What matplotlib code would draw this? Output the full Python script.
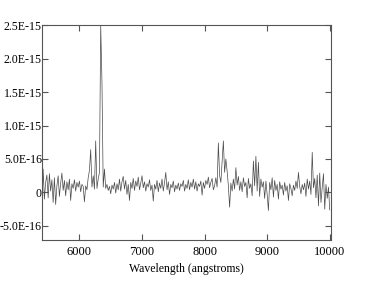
import numpy as np
import matplotlib.pyplot as plt
from matplotlib.ticker import FixedLocator, FixedFormatter

# spectrum sampled every 20 A, flux in units of 1e-16
wave_start, wave_step = 5400, 20
flux_e16 = [
    -3.2, 3.5, -1.0, 1.5, 2.6, -0.8, 2.8, 0.2, 1.9, -1.5,
    2.2, -1.8, 1.0, 2.5, -0.6, 1.4, 2.9, 0.3, 1.8, -0.5,
    1.6, 0.4, 2.0, -1.2, 1.3, 0.6, 1.9, 0.2, 1.5, 0.8,
    1.7, 0.1, 1.2, 0.9, -1.4, 1.0, 0.4, 2.2, 3.3, 6.4,
    0.8, 2.5, 0.5, 7.7, 0.6, 2.0, 3.0, 25.0, 16.5, 0.8,
    3.5, 0.6, 1.2, 0.3, 0.9, -0.2, 1.1, 0.5, 1.5, -0.1,
    1.3, 0.4, 2.0, 0.2, 1.6, 2.4, 0.5, 1.8, -0.3, 1.2,
    -1.2, 1.5, 0.6, 2.1, 0.3, 1.7, 0.9, 2.3, 0.4, 1.4,
    2.5, 0.7, 1.6, 0.2, 1.3, 0.8, 1.9, 0.3, 1.1, -1.3,
    1.2, 0.5, 1.8, 0.1, 1.4, 0.6, 2.0, 0.2, 1.5, 3.0,
    0.4, 1.6, -0.3, 1.2, 0.7, 1.7, 0.1, 1.1, 0.5, 1.4,
    0.3, 1.3, 0.9, 1.8, 0.2, 1.2, 0.6, 1.9, 0.4, 1.5,
    0.8, 2.0, 0.5, 1.6, 0.2, 1.3, 0.9, 1.7, -0.4, 1.5,
    0.6, 1.8, 1.2, 2.3, 0.7, 1.5, 2.1, 0.4, 1.0, 2.2,
    0.8, 7.4, 2.5, 1.5, 4.5, 7.7, 3.0, 5.0, 3.2, 1.0,
    -2.2, 1.4, 0.2, 2.0, 0.5, 3.7, 1.1, 2.4, 0.3, 1.6,
    0.1, 2.2, 0.9, 1.5, -0.8, 2.1, 0.6, 1.3, -0.5, 4.7,
    1.0, 5.4, 0.2, 4.5, -0.6, 2.0, 0.8, 1.6, -0.9, 1.7,
    -0.3, -2.7, 1.5, 0.4, 2.2, -0.7, 1.8, 0.3, 1.2, -1.0,
    1.6, 0.5, 1.1, -0.4, 1.5, 0.2, 1.0, -1.2, 1.3, 0.6,
    -0.5, 1.1, 0.3, 1.7, 0.6, 3.0, 0.9, -0.2, 1.2, 0.4,
    1.4, -0.6, 2.0, 0.5, 1.7, -0.3, 6.0, 0.7, 2.1, -0.8,
    2.6, -2.0, 2.9, -1.5, 0.8, 2.8, -2.5, 1.2, -0.9, 0.8,
    -2.6,
]
x_ticks = [6000, 7000, 8000, 9000, 10000]
y_ticks = [-5e-16, 0, 5e-16, 1e-15, 1.5e-15, 2e-15, 2.5e-15]
y_labels = ['-5.0E-16', '0', '5.0E-16', '1.0E-15', '1.5E-15', '2.0E-15', '2.5E-15']

wave = wave_start + wave_step * np.arange(len(flux_e16))
flux = np.array(flux_e16) * 1e-16

plt.rcParams['font.family'] = 'Liberation Serif'
fig = plt.figure(figsize=(3.74, 2.82), dpi=100)
ax = fig.add_axes([0.112, 0.149, 0.773, 0.762])

ax.plot(wave, flux, color='#4a4a4a', lw=0.5)

ax.set_xlim(5400, 10020)
ax.set_ylim(-7.1e-16, 2.5e-15)
ax.xaxis.set_major_locator(FixedLocator(x_ticks))
ax.yaxis.set_major_locator(FixedLocator(y_ticks))
ax.yaxis.set_major_formatter(FixedFormatter(y_labels))
ax.tick_params(direction='in', length=4.5, width=0.8, color='#555555',
               top=True, right=True, labelsize=9, pad=4)
ax.tick_params(axis='y', pad=0, labelsize=8.6)
for s in ax.spines.values():
    s.set_color('#555555')
    s.set_linewidth(0.8)

ax.set_xlabel('Wavelength (angstroms)', fontsize=8.5, labelpad=4)

plt.savefig('out.png', dpi=100)
